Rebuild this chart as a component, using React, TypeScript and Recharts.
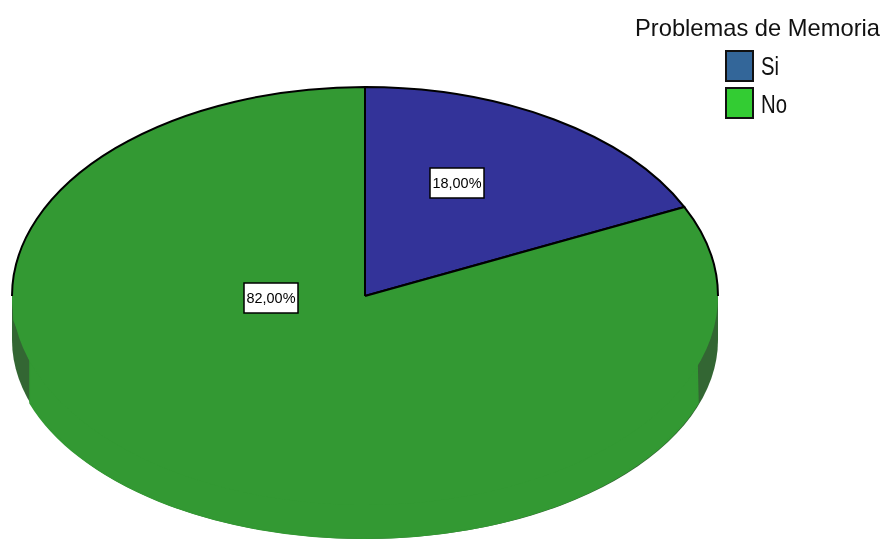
import { PieChart, Pie, Cell, Legend } from 'recharts';

const categories = ['Si', 'No'];
const percents = [18, 82];
const sliceColors = ['#333399', '#339933'];
const legendColors = ['#336699', '#33cc33'];
const legendTitle = 'Problemas de Memoria';

const data = categories.map((name, i) => ({ name, value: percents[i] }));

// spss style tilted pie: ellipse instead of a circle
const TILT = 209 / 353;
const FONT = '"Liberation Sans", Arial, sans-serif';
const RAD = Math.PI / 180;

const TiltedSector = (props: any) => {
  const { cx, cy, outerRadius: rx, startAngle, endAngle, fill, index } = props;
  const ry = rx * TILT;
  const pt = (a: number) => `${cx + rx * Math.cos(a * RAD)} ${cy - ry * Math.sin(a * RAD)}`;
  const large = startAngle - endAngle > 180 ? 1 : 0;
  const face = `M${cx} ${cy} L${pt(startAngle)} A${rx} ${ry} 0 ${large} 1 ${pt(endAngle)} Z`;

  if (index === 0) {
    return <path d={face} fill={fill} stroke="#000" strokeWidth={2} />;
  }

  // the rim: lower ellipse sits 44px below the face and is a bit flatter
  const l = cx - rx;
  const r = cx + rx;
  const rim = `M${l} ${cy} L${l} ${cy + 44} A${rx} 199 0 0 0 ${r} ${cy + 44} L${r} ${cy} Z`;
  const front =
    `M${l + 1} ${cy} L${l + 2} ${cy + 24} L${l + 18} ${cy + 64} L${l + 18} ${cy + 107} ` +
    `A${rx} 200 0 0 0 ${r - 20} ${cy + 107} L${r - 21} ${cy + 64} L${r - 2} ${cy + 11} L${r - 1} ${cy} Z`;
  const outline =
    `M${cx} ${cy} L${pt(startAngle)} A${rx} ${ry} 0 0 1 ${pt(0)} ` +
    `M${cx} ${cy} L${pt(endAngle)} A${rx} ${ry} 0 0 0 ${pt(180)}`;

  return (
    <g>
      <path d={rim} fill="#336633" />
      <path d={front} fill={fill} stroke={fill} strokeWidth={1.5} />
      <path d={face} fill={fill} />
      <path d={outline} fill="none" stroke="#000" strokeWidth={2} />
    </g>
  );
};

// label box centres, offset from the pie centre
const labelOffsets = [
  { dx: 92, dy: -113 },
  { dx: -94, dy: 2 },
];

const renderLabel = (props: any) => {
  const { cx, cy, index, value } = props;
  const x = cx + labelOffsets[index].dx;
  const y = cy + labelOffsets[index].dy;
  return (
    <g>
      <rect x={x - 27} y={y - 15} width={54} height={30} fill="#fff" stroke="#000" strokeWidth={1.5} />
      <text
        x={x}
        y={y + 5}
        textAnchor="middle"
        fontFamily={FONT}
        fontSize={14}
        fill="#000"
        textLength={49}
        lengthAdjust="spacingAndGlyphs"
        style={{ filter: 'blur(0.4px)' }}
      >
        {value.toFixed(2).replace('.', ',')}%
      </text>
    </g>
  );
};

const renderLegend = () => (
  <svg width={265} height={130} overflow="visible" style={{ display: 'block' }}>
    <text
      x={15}
      y={36}
      fontFamily={FONT}
      fontSize={24}
      fill="#111"
      textLength={245}
      lengthAdjust="spacingAndGlyphs"
      style={{ filter: 'blur(0.5px)' }}
    >
      {legendTitle}
    </text>
    {categories.map((name, i) => (
      <g key={name}>
        <rect x={106} y={51 + i * 37} width={27} height={30} fill={legendColors[i]} stroke="#111" strokeWidth={2} />
        <text
          x={141}
          y={75 + i * 38}
          fontFamily={FONT}
          fontSize={25}
          fill="#111"
          textLength={i === 0 ? 18 : 26}
          lengthAdjust="spacingAndGlyphs"
          style={{ filter: 'blur(0.5px)' }}
        >
          {name}
        </text>
      </g>
    ))}
  </svg>
);

export default function App() {
  return (
    <div style={{ position: 'absolute', left: 0, top: 0, width: 885, height: 540, overflow: 'hidden' }}>
      <PieChart width={885} height={540} margin={{ top: 0, right: 0, bottom: 0, left: 0 }}>
        <Pie
          data={data}
          dataKey="value"
          nameKey="name"
          cx={365}
          cy={296}
          innerRadius={0}
          outerRadius={353}
          startAngle={90}
          endAngle={-270}
          stroke="none"
          shape={TiltedSector}
          label={renderLabel}
          labelLine={false}
          isAnimationActive={false}
        >
          {data.map((entry, index) => (
            <Cell key={entry.name} fill={sliceColors[index]} />
          ))}
        </Pie>
        <Legend content={renderLegend} wrapperStyle={{ position: 'absolute', left: 620, top: 0, width: 265, height: 130 }} />
      </PieChart>
    </div>
  );
}
